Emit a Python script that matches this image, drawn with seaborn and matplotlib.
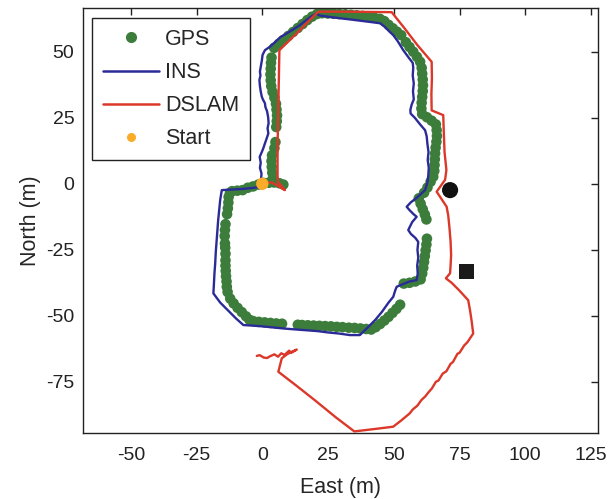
import matplotlib
matplotlib.use("Agg")
import matplotlib.pyplot as plt
from matplotlib.lines import Line2D
import pandas as pd
import seaborn as sns

# ---- GPS fixes (East, North in metres) ----
gps_e = [
    # start row
    -11.5, -9.5, -7.5, -5.5, -3.5, -1.5, 0.5, 2.5, 4.5, 6.5, 8.0,
    # north leg
    4.0, 3.8, 3.6, 3.5, 3.7, 4.6, 5.0, 5.3, 5.5, 5.6, 5.4, 5.2, 4.6, 3.9, 3.4,
    3.2, 3.1, 3.2, 3.3, 3.5,
    # north-east diagonal
    4.5, 6.3, 8.1, 9.9, 11.7, 13.5, 15.3, 17.1, 18.9, 20.8,
    # top
    22.7, 24.9, 27.1, 29.3, 31.5, 33.7, 35.9, 38.1, 40.3, 42.5, 44.7,
    # south-east diagonal
    46.4, 48.0, 49.6, 51.2, 52.8, 54.6, 56.0, 57.4, 58.8, 60.0,
    # east leg, upper
    60.6, 60.8, 61.0, 61.1, 61.0, 60.8, 60.6, 60.5,
    60.8, 62.6, 64.4, 66.0,
    # east leg, lower
    66.3, 66.4, 66.2, 65.9, 65.7, 65.6, 65.5, 65.4, 65.0, 64.0, 62.8, 61.5,
    59.5, 60.2, 61.0, 61.8, 62.4,
    62.6, 62.4, 62.1, 61.8, 61.5, 61.2, 60.8, 60.2,
    58.2, 56.0, 53.8,
    # south-west diagonal
    52.4, 51.0, 49.5, 48.0, 46.4, 44.8, 43.1, 41.4,
    # bottom
    39.5, 37.3, 35.1, 32.9, 30.5, 28.3, 26.1, 23.9, 21.7, 19.5, 17.3, 15.1, 13.5,
    7.5, 5.3, 3.1, 0.9, -1.3, -3.5, -4.9,
    # north-west diagonal
    -6.2, -7.8, -9.4, -10.9, -12.2,
    # west leg
    -13.2, -13.5, -13.6, -13.8, -13.9, -14.0, -14.0, -14.0, -14.1, -14.2,
    -14.3, -14.2, -14.0,
    -13.4, -13.1, -12.9, -12.8, -12.3,
]
gps_n = [
    -2.8, -2.6, -2.4, -1.5, -1.0, -0.3, 0.3, 0.4, 0.5, 0.2, -0.3,
    2.0, 4.2, 6.4, 8.6, 10.8, 13.5, 15.8, 21.5, 23.7, 25.9, 28.1, 30.3, 32.6, 34.8, 37.0,
    39.2, 41.4, 43.6, 45.8, 47.8,
    51.5, 53.0, 54.5, 56.0, 57.5, 59.0, 60.5, 62.0, 63.3, 64.3,
    64.6, 64.5, 64.4, 64.3, 64.2, 64.0, 63.8, 63.6, 63.3, 63.0, 62.5,
    61.6, 60.2, 58.9, 57.6, 56.3, 53.6, 51.8, 50.0, 48.1, 46.2,
    43.9, 41.7, 39.5, 37.3, 35.1, 32.9, 30.7, 28.5,
    26.4, 25.2, 23.9, 22.5,
    20.3, 18.1, 15.9, 13.7, 11.5, 9.3, 7.1, 4.9, 2.7, 0.8, -1.4, -3.4,
    -5.5, -7.5, -9.6, -11.6, -13.5,
    -20.8, -23.0, -25.2, -27.4, -29.6, -31.8, -34.0, -36.2,
    -37.0, -37.5, -37.8,
    -45.8, -47.4, -48.9, -50.4, -51.8, -53.1, -54.3, -55.2,
    -55.0, -54.8, -54.6, -54.5, -54.3, -54.2, -54.0, -53.9, -53.8, -53.7, -53.6, -53.5, -53.4,
    -53.0, -52.9, -52.7, -52.5, -52.3, -52.0, -51.5,
    -50.2, -48.6, -47.0, -45.3, -43.5,
    -41.0, -39.0, -37.0, -35.0, -33.0, -31.0, -29.0, -26.5, -24.2, -22.6,
    -19.8, -17.5, -15.3,
    -11.5, -9.3, -7.1, -5.0, -3.5,
]

# ---- INS dead-reckoning track ----
ins_e = [
    0.0, -0.5, -0.3, -0.9, -0.6, -1.0, -0.2, 0.4, 1.0, 1.6, 2.3, 2.0, 2.4, 2.2, 1.8,
    1.2, 1.0, 0.2, -0.2, -0.6, -0.9, -1.1, -0.7, -0.9, -0.6, -0.2, 0.1, 1.0,
    3.0, 5.0, 6.8, 9.0, 11.5, 14.3, 16.5, 18.5, 20.5,
    22.0, 25.0, 29.5, 33.0, 37.0, 41.0, 44.8,
    46.5, 48.5, 49.8, 51.5, 53.6, 55.5, 57.2,
    57.4, 57.2, 57.6, 57.3, 57.6, 56.8, 56.3, 56.4,
    58.0, 60.0, 61.9,
    62.5, 62.8, 63.2, 62.9, 63.3, 63.1, 62.8, 61.9,
    58.5, 56.5, 54.9, 56.0, 57.5, 58.7, 57.0, 55.5, 56.5, 58.2, 59.3,
    59.0, 59.3, 58.9, 59.1, 58.7, 56.0, 53.5, 51.1, 50.5, 49.8,
    48.0, 45.5, 43.0, 40.0, 37.1,
    33.3, 29.0, 25.0, 21.0, 17.0, 13.0, 8.0, 4.0, 0.0, -4.0, -7.2,
    -10.0, -13.0, -16.0, -18.6,
    -18.4, -18.2, -17.9, -17.7, -17.4, -17.1, -16.8, -16.4, -16.0, -15.5, -15.4,
    -12.0, -8.0, -4.0, -1.0, 0.4,
]
ins_n = [
    0.0, 1.5, 3.9, 6.0, 8.0, 10.2, 12.0, 13.5, 15.3, 17.0, 19.1, 21.0, 23.0, 25.4, 27.5,
    29.0, 30.5, 32.0, 33.0, 35.0, 37.0, 39.3, 41.0, 42.5, 44.3, 46.5, 48.8, 50.6,
    52.0, 53.8, 55.5, 56.8, 58.3, 60.1, 61.8, 63.3, 64.4,
    63.7, 63.3, 62.7, 62.3, 61.8, 61.3, 60.8,
    59.5, 57.5, 56.3, 54.0, 50.6, 48.0, 45.8,
    44.0, 41.0, 38.0, 35.0, 32.0, 30.0, 28.0, 26.6,
    25.0, 22.5, 20.3,
    18.0, 15.0, 12.0, 9.0, 6.0, 3.0, 0.5, -2.4,
    -5.5, -7.0, -8.7, -10.0, -11.5, -12.5, -14.5, -17.5, -19.0, -20.5, -22.0,
    -25.0, -28.0, -31.0, -34.0, -36.5, -37.0, -38.0, -39.0, -40.5, -42.8,
    -45.0, -48.5, -51.5, -54.5, -57.3,
    -57.3, -56.7, -56.3, -55.8, -55.5, -55.2, -54.8, -54.4, -54.0, -53.7, -53.5,
    -51.0, -48.0, -45.0, -41.5,
    -38.0, -34.0, -30.0, -26.0, -22.0, -18.0, -14.0, -10.0, -6.0, -3.0, -2.4,
    -2.2, -2.0, -1.6, -1.2, -0.5,
]

# ---- DSLAM estimated track ----
dslam_e = [
    0.5, 3.6, 6.0, 8.6, 7.5, 6.0, 5.8, 5.8, 5.9, 6.1, 6.3, 6.5,
    10.5, 14.3, 18.0, 21.3, 30.0, 40.0, 49.2,
    54.0, 59.0, 64.4, 64.5, 64.3, 64.4, 68.8,
    69.0, 69.3, 70.0, 69.5, 66.3, 68.3, 70.1,
    70.7, 71.2, 71.6, 71.8, 71.6, 71.4, 69.8, 72.0, 75.0, 78.3,
    79.0, 79.6, 80.2,
    78.0, 76.8, 75.0, 74.2, 72.5, 71.6, 70.0, 68.6, 67.0, 66.0, 64.5, 63.0, 62.0,
    60.5, 59.0, 57.3, 56.0, 53.0, 49.8,
    45.0, 40.0, 35.0,
    28.0, 20.0, 13.0, 6.1, 7.4,
    9.5, 11.5, 13.1, 11.0, 10.2, 8.5, 7.2, 6.0, 4.6, 3.0, 1.8, 0.5, -1.0, -2.1,
]
dslam_n = [
    0.3, 0.5, -0.8, -2.4, -1.0, 0.5, 3.0, 10.0, 20.0, 30.0, 40.0, 50.6,
    54.5, 58.2, 62.0, 65.2, 65.2, 65.1, 65.0,
    59.0, 52.5, 46.2, 40.0, 34.0, 27.8, 26.0,
    20.0, 12.0, 5.2, 1.5, -3.0, -6.0, -8.7,
    -12.0, -17.0, -22.0, -27.0, -31.0, -33.9, -35.8, -37.5, -40.5, -44.1,
    -48.0, -52.0, -56.7,
    -60.0, -61.2, -64.0, -64.4, -67.5, -68.2, -71.0, -71.9, -74.5, -75.0, -77.5, -79.2, -80.5,
    -81.9, -84.0, -85.4, -87.0, -89.5, -92.0,
    -92.6, -93.2, -93.8,
    -88.5, -82.0, -76.5, -71.2, -66.1,
    -64.5, -63.5, -62.8, -64.0, -63.2, -64.8, -64.2, -65.5, -64.6, -65.3, -66.0, -65.8, -64.9, -65.2,
]

start_e, start_n = [0.0], [0.0]
circle_e, circle_n = [71.4], [-2.4]
square_e, square_n = [77.5], [-33.2]

legend_labels = ["GPS", "INS", "DSLAM", "Start"]
xticks = [-50, -25, 0, 25, 50, 75, 100, 125]
yticks = [-75, -50, -25, 0, 25, 50]

c_gps, c_ins, c_slam, c_start = "#3c7d3c", "#2b2b98", "#dc3829", "#f9ab2a"

sns.set_style("white")
plt.rcParams["font.family"] = ["Liberation Sans", "DejaVu Sans"]
plt.rcParams["axes.unicode_minus"] = False

fig = plt.figure(figsize=(6.08, 4.99), dpi=100)
ax = fig.add_axes([0.136, 0.1317, 0.8469, 0.8513])

gps = pd.DataFrame({"E": gps_e, "N": gps_n})
ins = pd.DataFrame({"E": ins_e, "N": ins_n})
slam = pd.DataFrame({"E": dslam_e, "N": dslam_n})

sns.scatterplot(data=gps, x="E", y="N", ax=ax, color=c_gps, s=58,
                edgecolor="none", zorder=2, legend=False)
sns.lineplot(data=ins, x="E", y="N", ax=ax, sort=False, estimator=None,
             color=c_ins, lw=1.7, zorder=3, legend=False)
sns.lineplot(data=slam, x="E", y="N", ax=ax, sort=False, estimator=None,
             color=c_slam, lw=1.7, zorder=4, legend=False)
sns.scatterplot(x=start_e, y=start_n, ax=ax, color=c_start, s=80,
                edgecolor="none", zorder=5, legend=False)
sns.scatterplot(x=circle_e, y=circle_n, ax=ax, color="#111111", marker="o",
                s=135, edgecolor="none", zorder=5, legend=False)
sns.scatterplot(x=square_e, y=square_n, ax=ax, color="#1a1a1a", marker="s",
                s=115, edgecolor="none", zorder=5, legend=False)

ax.set_xlim(-68.3, 127.5)
ax.set_ylim(-94.5, 66.4)
ax.set_xticks(xticks)
ax.set_yticks(yticks)
ax.set_xlabel("East (m)", fontsize=15.5, labelpad=9)
ax.set_ylabel("North (m)", fontsize=15.5, labelpad=4)
ax.tick_params(direction="in", length=5, width=1, top=True, right=True,
               labelsize=14, colors="#222222", pad=6)
ax.tick_params(axis="x", pad=10)
for sp in ax.spines.values():
    sp.set_color("#222222")
    sp.set_linewidth(1.0)

handles = [
    Line2D([], [], ls="none", marker="o", ms=8, color=c_gps, mec="none"),
    Line2D([], [], color=c_ins, lw=1.8),
    Line2D([], [], color=c_slam, lw=1.8),
    Line2D([], [], ls="none", marker="o", ms=6.5, color=c_start, mec="none"),
]
leg = ax.legend(handles, legend_labels, loc="upper left",
                bbox_to_anchor=(0.018, 0.977), borderaxespad=0,
                fontsize=15.5, handlelength=2.6, handletextpad=0.3,
                labelspacing=0.56, borderpad=0.5, fancybox=False,
                framealpha=1, edgecolor="#222222")
leg.get_frame().set_linewidth(1.0)

fig.savefig("out.png", dpi=100)
